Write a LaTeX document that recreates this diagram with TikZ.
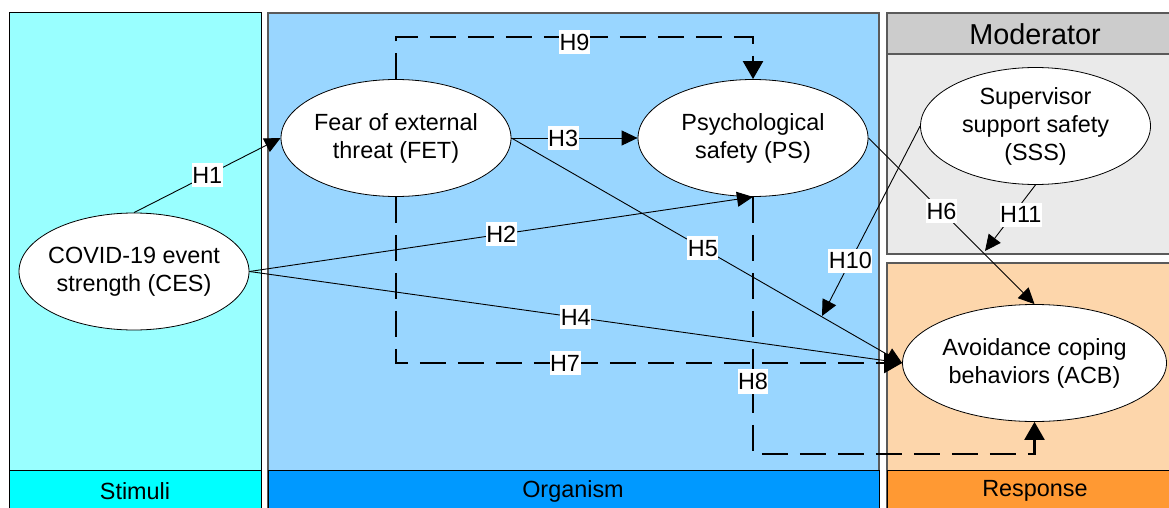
\documentclass[tikz,border=0pt]{standalone}
\usepackage{fontspec}
\setmainfont{Liberation Sans}
\usetikzlibrary{shapes.geometric,arrows.meta}
\definecolor{stimBody}{RGB}{153,255,255}
\definecolor{stimBar}{RGB}{0,255,255}
\definecolor{orgBody}{RGB}{153,214,255}
\definecolor{orgBar}{RGB}{0,153,255}
\definecolor{modHead}{RGB}{204,204,204}
\definecolor{modBody}{RGB}{234,234,234}
\definecolor{respBody}{RGB}{253,214,171}
\definecolor{respBar}{RGB}{255,153,51}
\definecolor{panelEdge}{RGB}{90,90,90}
\begin{document}
\begin{tikzpicture}[x=1pt,y=-1pt,
  ell/.style={ellipse,draw=black,fill=white,line width=0.8pt,minimum width=230pt,minimum height=117pt,inner sep=0pt},
  etxt/.style={align=center,font=\fontsize{23.4}{28}\selectfont,inner sep=0pt},
  ptxt/.style={font=\fontsize{23.4}{28}\selectfont,inner sep=0pt},
  hl/.style={fill=white,inner xsep=0.5pt,inner ysep=4pt,font=\fontsize{23.4}{28}\selectfont},
  tip/.style={-{Triangle[length=16pt,width=15pt]}},
  bigtip/.style={-{Triangle[length=18pt,width=20pt]}},
  solidarrow/.style={line width=0.9pt,tip},
  dsh/.style={line width=2.4pt,dash pattern=on 26pt off 12pt,bigtip},
  panel/.style={draw=panelEdge,line width=1.2pt}]
\path[use as bounding box] (0,0) rectangle (1169,508);
\clip (0,0) rectangle (1169,508);
\fill[white] (0,0) rectangle (1169,508);
% panels
\draw[fill=stimBody,draw=black,line width=1pt] (9,13) rectangle (261,512);
\draw[fill=stimBar,draw=black,line width=1pt] (9,470) rectangle (261,512);
\node[ptxt] (stimtxt) at (135,491) {Stimuli};
\draw[panel,fill=orgBody] (268,13) rectangle (879,512);
\draw[fill=orgBar,draw=black,line width=1pt] (268,470) rectangle (879,512);
\node[ptxt] (orgtxt) at (573,491) {Organism};
\draw[panel,fill=modBody] (887,13) rectangle (1175,254);
\draw[panel,fill=modHead] (887,13) rectangle (1175,54);
\node[font=\fontsize{28.8}{32}\selectfont,inner sep=0pt] (modtxt) at (1035,34) {Moderator};
\draw[panel,fill=respBody] (887,263) rectangle (1175,512);
\draw[fill=respBar,draw=black,line width=1pt] (887,470) rectangle (1175,512);
\node[ptxt] (resptxt) at (1035,491) {Response};
% ellipses
\node[ell,label={[etxt]center:{COVID-19 event\\strength (CES)}}] (CES) at (134,271.5) {};
\node[ell,label={[etxt]center:{Fear of external\\threat (FET)}}] (FET) at (396,138) {};
\node[ell,label={[etxt]center:{Psychological\\safety (PS)}}] (PS) at (753,138) {};
\node[ell,label={[etxt]center:{Supervisor\\support safety\\(SSS)}}] (SSS) at (1035.5,126) {};
\node[ell,minimum width=264pt,label={[etxt]center:{Avoidance coping\\behaviors (ACB)}}] (ACB) at (1034.5,363) {};
% free points
\coordinate (h9y) at (0,37);
\coordinate (h8y) at (0,454);
\coordinate (h10end) at (822,316);
\coordinate (h11end) at (985,251);
% dashed connectors
\draw[dsh] (FET.north) -- (FET.north |- h9y) -- node[hl,pos=0.5,yshift=-5pt]{H9} (PS.north |- h9y) -- (PS.north);
\draw[dsh] (FET.south) |- node[hl,pos=0.667]{H7} (ACB.west);
\draw[dsh] (PS.south) -- node[hl,pos=0.717]{H8} (PS.south |- h8y) -- (ACB.south |- h8y) -- (ACB.south);
% solid connectors
\draw[solidarrow] (CES.north) -- node[hl]{H1} (FET.west);
\draw[solidarrow] (CES.east) -- node[hl]{H2} (PS.south);
\draw[solidarrow] (FET.east) -- node[hl,pos=0.41]{H3} (PS.west);
\draw[solidarrow] (CES.east) -- node[hl,pos=0.5]{H4} (ACB.west);
\draw[solidarrow] (FET.east) -- node[hl,pos=0.49]{H5} (ACB.west);
\draw[solidarrow] (PS.east) -- node[hl,pos=0.44]{H6} (ACB.north);
\draw[solidarrow] (SSS.west) -- node[hl,pos=0.71]{H10} (h10end);
\draw[solidarrow] (SSS.south) -- node[hl,pos=0.45,xshift=8pt]{H11} (h11end);
\end{tikzpicture}
\end{document}
